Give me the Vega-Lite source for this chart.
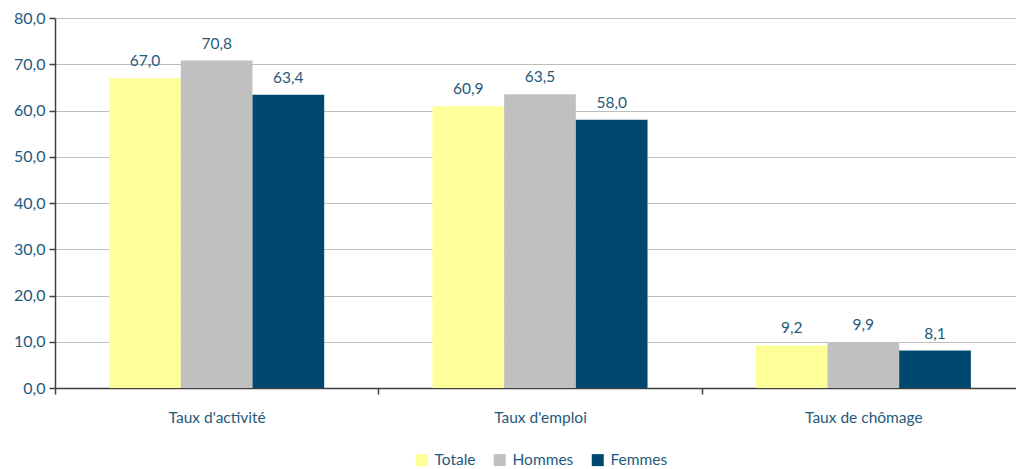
{
  "$schema": "https://vega.github.io/schema/vega-lite/v6.json",
  "width": 960,
  "height": 370,
  "autosize": {"type": "none"},
  "padding": {"left": 55, "top": 18, "right": 1, "bottom": 81},
  "background": "white",
  "config": {
    "locale": {"number": {"decimal": ",", "thousands": " ", "grouping": [3], "currency": ["", " €"]}},
    "font": "Lato",
    "view": {"stroke": null}
  },
  "data": {
    "values": [
      {"cat": "Taux d'activité", "serie": "Totale", "v": 67.0},
      {"cat": "Taux d'activité", "serie": "Hommes", "v": 70.8},
      {"cat": "Taux d'activité", "serie": "Femmes", "v": 63.4},
      {"cat": "Taux d'emploi", "serie": "Totale", "v": 60.9},
      {"cat": "Taux d'emploi", "serie": "Hommes", "v": 63.5},
      {"cat": "Taux d'emploi", "serie": "Femmes", "v": 58.0},
      {"cat": "Taux de chômage", "serie": "Totale", "v": 9.2},
      {"cat": "Taux de chômage", "serie": "Hommes", "v": 9.9},
      {"cat": "Taux de chômage", "serie": "Femmes", "v": 8.1}
    ]
  },
  "encoding": {
    "x": {
      "field": "cat", "type": "nominal", "sort": null,
      "scale": {"paddingInner": 0, "paddingOuter": 0, "range": [0, 970]},
      "axis": {
        "title": null, "labelAngle": 0, "labelFontSize": 15.5, "labelColor": "#1F5A7C",
        "labelPadding": 16, "domainColor": "#404040", "domainWidth": 1.5,
        "tickBand": "extent", "tickColor": "#404040", "tickSize": 6, "tickWidth": 1.5
      }
    },
    "xOffset": {"field": "serie", "type": "nominal", "sort": ["Totale", "Hommes", "Femmes"], "scale": {"paddingInner": 0, "paddingOuter": 0.755}},
    "y": {
      "field": "v", "type": "quantitative",
      "scale": {"domain": [0, 80]},
      "axis": {
        "title": null, "values": [0, 10, 20, 30, 40, 50, 60, 70, 80], "format": ".1f",
        "labelFontSize": 16, "labelColor": "#1F5A7C", "labelPadding": 4,
        "domainColor": "#404040", "domainWidth": 1.5, "tickColor": "#404040", "tickSize": 6, "tickWidth": 1.5,
        "gridColor": "#BDBDBD", "gridWidth": 1.2
      }
    }
  },
  "layer": [
    {
      "mark": {"type": "bar"},
      "encoding": {
        "color": {
          "field": "serie", "type": "nominal",
          "sort": ["Totale", "Hommes", "Femmes"],
          "scale": {"domain": ["Totale", "Hommes", "Femmes"], "range": ["#FFFF99", "#C0C0C0", "#00486E"]},
          "legend": {
            "title": null, "orient": "none", "direction": "horizontal", "legendX": 359, "legendY": 434,
            "symbolType": "square", "symbolSize": 144, "symbolStrokeWidth": 0, "symbolOffset": 0,
            "labelFontSize": 15.5, "labelColor": "#1F5A7C", "labelOffset": 5, "columnPadding": 16
          }
        }
      }
    },
    {
      "mark": {"type": "text", "dy": -9, "baseline": "bottom", "fontSize": 15.5, "color": "#1F5A7C"},
      "encoding": {"text": {"field": "v", "type": "quantitative", "format": ".1f"}}
    }
  ]
}
